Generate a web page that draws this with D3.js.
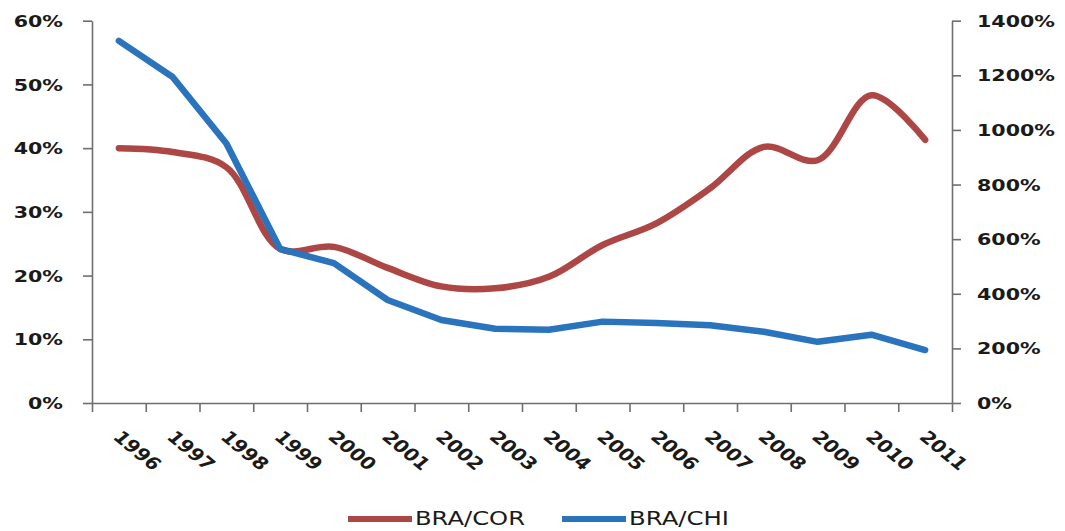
<!DOCTYPE html>
<html>
<head>
<meta charset="utf-8">
<script src="https://cdn.jsdelivr.net/npm/d3@7"></script>
<style>
  html, body { margin: 0; padding: 0; background: #fff; }
  svg { display: block; }
  text { font-family: "DejaVu Sans", Verdana, sans-serif; fill: #1a1a1a; font-weight: bold; }
</style>
</head>
<body>
<svg id="chart" width="1065" height="531"></svg>
<script>
// Years on the category axis
const years = ["1996","1997","1998","1999","2000","2001","2002","2003",
               "2004","2005","2006","2007","2008","2009","2010","2011"];

// BRA/COR ratio, left axis (fraction)
const braCor = [0.400, 0.394, 0.370, 0.242, 0.245, 0.212, 0.183, 0.180,
                0.198, 0.248, 0.282, 0.337, 0.402, 0.381, 0.483, 0.413];

// BRA/CHI ratio, right axis (fraction)
const braChi = [13.26, 11.94, 9.50, 5.64, 5.12, 3.77, 3.04, 2.72,
                2.68, 2.98, 2.93, 2.85, 2.61, 2.24, 2.50, 1.94];

// Axis tick values
const leftTicks  = [0, 0.1, 0.2, 0.3, 0.4, 0.5, 0.6];
const rightTicks = [0, 2, 4, 6, 8, 10, 12, 14];

const seriesNames  = ["BRA/COR", "BRA/CHI"];
const seriesColors = ["#ad4745", "#2a73bd"];

const svg = d3.select("#chart");
const plot = { left: 92, right: 952, top: 20.7, bottom: 403 };
const axisColor = "#6e6e6e";
const stretch = 1.33;   // labels are drawn wide

const x = d3.scaleBand().domain(years).range([plot.left, plot.right]).padding(0);
const xBound = d3.scaleLinear().domain([0, years.length]).range([plot.left, plot.right]);
const yL = d3.scaleLinear().domain([0, 0.6]).range([plot.bottom, plot.top]);
const yR = d3.scaleLinear().domain([0, 14]).range([plot.bottom, plot.top]);
const pct = d3.format(".0%");

function styleAxis(g) {
  g.selectAll("path.domain, line").attr("stroke", axisColor).attr("stroke-width", 1.6);
}

function styleLabels(sel, size) {
  sel.attr("font-size", size)
    .style("font-family", "'DejaVu Sans', sans-serif")
    .style("font-weight", "bold")
    .attr("fill", "#1a1a1a");
}

// Category boundary ticks along the bottom
svg.append("g")
  .attr("transform", `translate(0,${plot.bottom})`)
  .call(d3.axisBottom(xBound).tickValues(d3.range(0, years.length + 1))
          .tickFormat("").tickSize(9).tickSizeOuter(0))
  .call(styleAxis);

// Year labels, slanted
svg.append("g")
  .attr("transform", `translate(0,${plot.bottom})`)
  .call(d3.axisBottom(x).tickSize(0).tickSizeOuter(0))
  .call(g => g.select(".domain").remove())
  .call(g => g.selectAll("text")
    .attr("x", 0).attr("y", 0).attr("dy", 0)
    .attr("text-anchor", "start")
    .call(styleLabels, 17)
    .attr("transform", `translate(-7,35) scale(1.22,1) rotate(45)`));

// Left axis
svg.append("g")
  .attr("transform", `translate(${plot.left},0)`)
  .call(d3.axisLeft(yL).tickValues(leftTicks).tickFormat(pct).tickSize(9).tickSizeOuter(0))
  .call(styleAxis)
  .call(g => g.selectAll("text")
    .attr("x", 0).attr("dy", "0.36em")
    .call(styleLabels, 15.5)
    .attr("transform", `translate(-29,0) scale(${stretch},1)`));

// Right axis
svg.append("g")
  .attr("transform", `translate(${plot.right},0)`)
  .call(d3.axisRight(yR).tickValues(rightTicks).tickFormat(pct).tickSize(9).tickSizeOuter(0))
  .call(styleAxis)
  .call(g => g.selectAll("text")
    .attr("x", 0).attr("dy", "0.36em")
    .call(styleLabels, 15.5)
    .attr("transform", `translate(25,0) scale(${stretch},1)`));

// Series lines
const cx = d => x(d) + x.bandwidth() / 2;
const lineL = d3.line().x((d, i) => cx(years[i])).y(d => yL(d)).curve(d3.curveCatmullRom.alpha(0.5));
const lineR = d3.line().x((d, i) => cx(years[i])).y(d => yR(d)).curve(d3.curveLinear);

svg.append("path").datum(braCor)
  .attr("d", lineL).attr("fill", "none")
  .attr("stroke", seriesColors[0]).attr("stroke-width", 6.5)
  .attr("stroke-linecap", "round").attr("stroke-linejoin", "round");

svg.append("path").datum(braChi)
  .attr("d", lineR).attr("fill", "none")
  .attr("stroke", seriesColors[1]).attr("stroke-width", 6.5)
  .attr("stroke-linecap", "round").attr("stroke-linejoin", "round");

// Legend
const legend = [
  { name: seriesNames[0], color: seriesColors[0], x: 348, w: 110 },
  { name: seriesNames[1], color: seriesColors[1], x: 562, w: 100 }
];
const lg = svg.append("g");
legend.forEach(it => {
  lg.append("line")
    .attr("x1", it.x).attr("x2", it.x + 64)
    .attr("y1", 519).attr("y2", 519)
    .attr("stroke", it.color).attr("stroke-width", 6);
  lg.append("text")
    .attr("x", it.x + 67).attr("y", 525)
    .attr("font-size", 19)
    .style("font-weight", "normal")
    .attr("textLength", it.w).attr("lengthAdjust", "spacingAndGlyphs")
    .text(it.name);
});
</script>
</body>
</html>
